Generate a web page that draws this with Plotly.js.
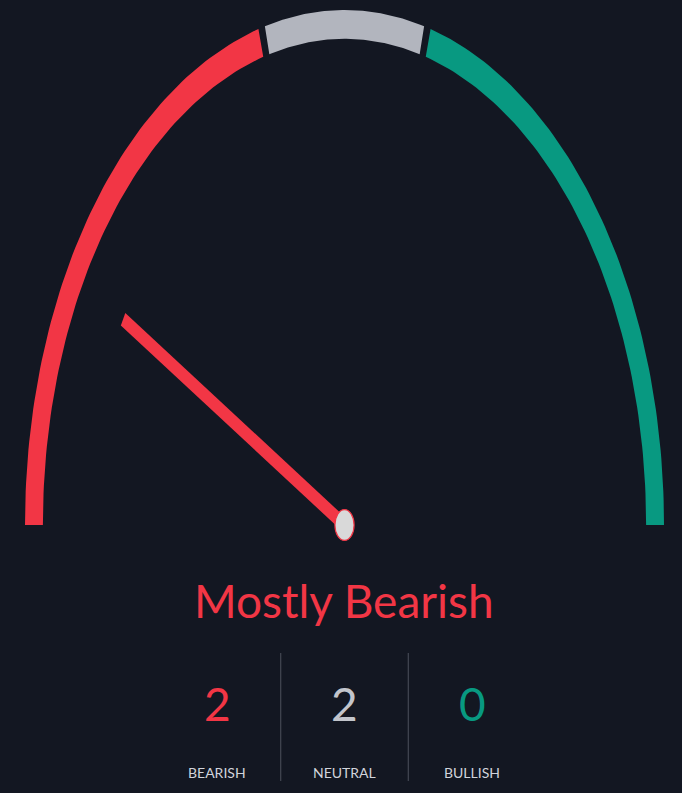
<!DOCTYPE html>
<html>
<head>
<meta charset="utf-8">
<script src="https://cdn.plot.ly/plotly-3.0.1.min.js"></script>
<style>
  html, body { margin: 0; padding: 0; background: #131722; }
  #gauge { width: 682px; height: 793px; }
</style>
</head>
<body>
<div id="gauge"></div>
<script>
// tallies shown under the gauge
const categories = ['BEARISH', 'NEUTRAL', 'BULLISH'];
const counts = [2, 2, 0];
const categoryColors = ['#F23645', '#B2B5BE', '#089981'];

// gauge runs from -1 (left) to 1 (right)
const zoneEdges = [-1, -0.167, 0.167, 1];
const needleValue = -0.667;
const verdict = 'Mostly Bearish';

const W = 682;
const H = 793;
const BG = '#131722';
const OUTER = 1.0;
const INNER = 0.944;
const GAP = 0.6 * Math.PI / 180;
const NEEDLE_LEN = 0.8;
const NEEDLE_HALF = 0.014;
const KNOB_R = 0.03;

const valueToAngle = (v) => Math.PI * (1 - (v + 1) / 2);

const traces = [];

for (let i = 0; i < zoneEdges.length - 1; i++) {
  let a0 = valueToAngle(zoneEdges[i]);
  let a1 = valueToAngle(zoneEdges[i + 1]);
  if (i > 0) a0 -= GAP;
  if (i < zoneEdges.length - 2) a1 += GAP;

  let xs = [];
  let ys = [];
  const steps = 80;
  for (let k = 0; k <= steps; k++) {
    let a = a0 + (a1 - a0) * k / steps;
    xs.push(OUTER * Math.cos(a));
    ys.push(OUTER * Math.sin(a));
  }
  for (let k = steps; k >= 0; k--) {
    let a = a0 + (a1 - a0) * k / steps;
    xs.push(INNER * Math.cos(a));
    ys.push(INNER * Math.sin(a));
  }
  traces.push({
    x: xs,
    y: ys,
    type: 'scatter',
    mode: 'lines',
    fill: 'toself',
    fillcolor: categoryColors[i],
    line: { width: 0, color: categoryColors[i] },
    hoverinfo: 'skip',
    showlegend: false
  });
}

// needle
const th = valueToAngle(needleValue);
const dx = Math.cos(th), dy = Math.sin(th);
const px = -Math.sin(th), py = Math.cos(th);
traces.push({
  x: [NEEDLE_HALF * px, NEEDLE_LEN * dx + NEEDLE_HALF * px, NEEDLE_LEN * dx - NEEDLE_HALF * px, -NEEDLE_HALF * px, NEEDLE_HALF * px],
  y: [NEEDLE_HALF * py, NEEDLE_LEN * dy + NEEDLE_HALF * py, NEEDLE_LEN * dy - NEEDLE_HALF * py, -NEEDLE_HALF * py, NEEDLE_HALF * py],
  type: 'scatter',
  mode: 'lines',
  fill: 'toself',
  fillcolor: categoryColors[0],
  line: { width: 0, color: categoryColors[0] },
  hoverinfo: 'skip',
  showlegend: false
});

// pixel frame: gauge centre at (344.5, 525), radius 319.5 px across, 515 px up
const CX = 344.5, CY = 525, RX = 319.5, RY = 515;

const colX = [217, 344.5, 472];
const annotations = [{
  text: verdict,
  x: 344 / W, y: 1 - 600 / H,
  xref: 'paper', yref: 'paper',
  xanchor: 'center', yanchor: 'middle',
  showarrow: false,
  font: { family: 'Lato, sans-serif', size: 46, color: categoryColors[0] }
}];

const shapes = [{
  type: 'circle',
  xref: 'x', yref: 'y',
  x0: -KNOB_R, x1: KNOB_R, y0: -KNOB_R, y1: KNOB_R,
  fillcolor: '#D9D9D9',
  line: { color: categoryColors[0], width: 1.2 },
  layer: 'above'
}];

categories.forEach((c, i) => {
  annotations.push({
    text: String(counts[i]),
    x: colX[i] / W, y: 1 - 703 / H,
    xref: 'paper', yref: 'paper',
    xanchor: 'center', yanchor: 'middle',
    showarrow: false,
    font: { family: 'Lato, sans-serif', size: 46, color: i === 1 ? '#C2C5CC' : categoryColors[i] }
  });
  annotations.push({
    text: c,
    x: colX[i] / W, y: 1 - 772 / H,
    xref: 'paper', yref: 'paper',
    xanchor: 'center', yanchor: 'middle',
    showarrow: false,
    font: { family: 'Lato, sans-serif', size: 14, color: '#D1D4DC' }
  });
  if (i > 0) {
    let sx = (colX[i - 1] + colX[i]) / 2 / W;
    shapes.push({
      type: 'line',
      xref: 'paper', yref: 'paper',
      x0: sx, x1: sx, y0: 1 - 653 / H, y1: 1 - 781 / H,
      line: { color: '#4E525D', width: 1 }
    });
  }
});

Plotly.newPlot('gauge', traces, {
  width: W,
  height: H,
  paper_bgcolor: BG,
  plot_bgcolor: BG,
  margin: { t: 0, l: 0, r: 0, b: 0 },
  showlegend: false,
  xaxis: {
    range: [-CX / RX, (W - CX) / RX],
    visible: false,
    fixedrange: true
  },
  yaxis: {
    range: [-(H - CY) / RY, CY / RY],
    visible: false,
    fixedrange: true
  },
  shapes: shapes,
  annotations: annotations
}, { displayModeBar: false, staticPlot: true });
</script>
</body>
</html>
